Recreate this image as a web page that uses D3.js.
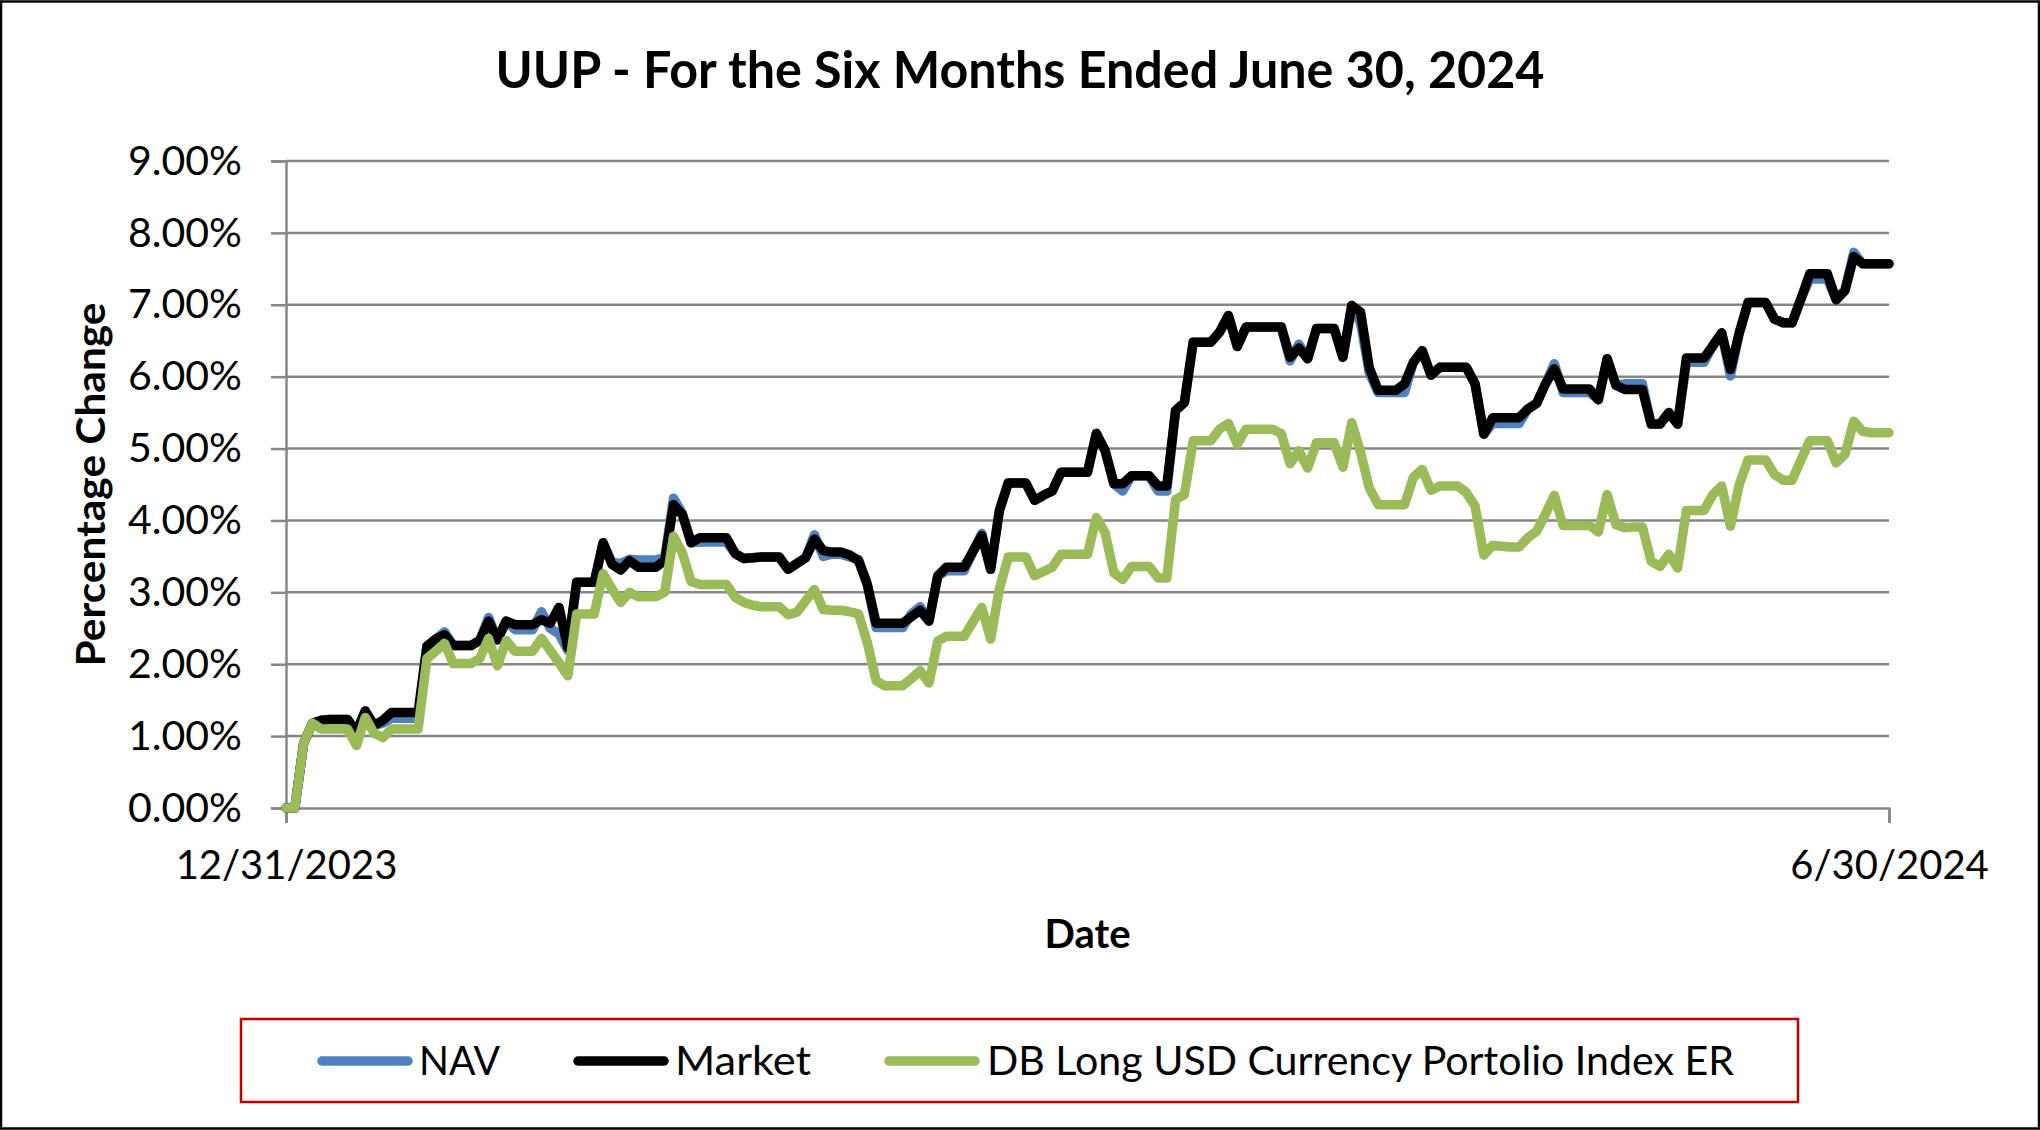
<!DOCTYPE html>
<html>
<head>
<meta charset="utf-8">
<script src="https://cdn.jsdelivr.net/npm/d3@7"></script>
<style>
  html, body { margin: 0; padding: 0; background: #fff; }
  svg { display: block; }
  text { font-family: Lato, "Open Sans", sans-serif; fill: #000; }
</style>
</head>
<body>
<svg id="chart" width="2040" height="1130"></svg>
<script>
// ---------------- DATA ----------------
const title = "UUP - For the Six Months Ended June 30, 2024";
const xTitle = "Date";
const yTitle = "Percentage Change";
const startDate = "2023-12-31";
const endDate = "2024-06-30";
const xTickLabels = ["12/31/2023", "6/30/2024"];
const yTicks = [0, 1, 2, 3, 4, 5, 6, 7, 8, 9];
const seriesNames = ["NAV", "Market", "DB Long USD Currency Portolio Index ER"];

// daily values (percent), 12/31/2023 .. 6/30/2024
const market = [
  0, 0, 0.90, 1.18, 1.22, 1.23, 1.23, 1.23, 1.06, 1.35,
  1.15, 1.22, 1.33, 1.33, 1.33, 1.33, 2.25, 2.35, 2.41, 2.26,
  2.26, 2.26, 2.33, 2.60, 2.34, 2.60, 2.55, 2.55, 2.55, 2.62,
  2.57, 2.79, 2.23, 3.14, 3.14, 3.14, 3.69, 3.39, 3.31, 3.44,
  3.35, 3.35, 3.35, 3.44, 4.22, 4.08, 3.69, 3.76, 3.76, 3.76,
  3.76, 3.54, 3.47, 3.48, 3.49, 3.49, 3.49, 3.32, 3.40, 3.48,
  3.74, 3.58, 3.56, 3.56, 3.52, 3.44, 3.11, 2.57, 2.57, 2.57,
  2.57, 2.66, 2.75, 2.60, 3.23, 3.35, 3.35, 3.35, 3.57, 3.79,
  3.32, 4.14, 4.52, 4.52, 4.52, 4.28, 4.35, 4.41, 4.67, 4.67,
  4.67, 4.67, 5.21, 4.97, 4.51, 4.51, 4.62, 4.62, 4.62, 4.48,
  4.48, 5.53, 5.64, 6.48, 6.48, 6.48, 6.62, 6.85, 6.42, 6.69,
  6.69, 6.69, 6.69, 6.69, 6.27, 6.40, 6.25, 6.67, 6.67, 6.67,
  6.27, 6.99, 6.90, 6.12, 5.81, 5.81, 5.81, 5.90, 6.20, 6.36,
  6.02, 6.13, 6.13, 6.13, 6.13, 5.90, 5.20, 5.43, 5.43, 5.43,
  5.43, 5.55, 5.63, 5.90, 6.11, 5.83, 5.83, 5.83, 5.83, 5.68,
  6.25, 5.88, 5.82, 5.82, 5.82, 5.34, 5.34, 5.50, 5.34, 6.26,
  6.26, 6.26, 6.43, 6.61, 6.10, 6.61, 7.03, 7.03, 7.03, 6.80,
  6.75, 6.75, 7.08, 7.43, 7.43, 7.43, 7.07, 7.20, 7.67, 7.57,
  7.57, 7.57, 7.57
];
const nav = [
  0, 0, 0.90, 1.18, 1.22, 1.23, 1.23, 1.23, 1.06, 1.35,
  1.15, 1.18, 1.25, 1.25, 1.25, 1.25, 2.25, 2.35, 2.45, 2.26,
  2.26, 2.26, 2.33, 2.65, 2.34, 2.60, 2.48, 2.48, 2.48, 2.73,
  2.50, 2.42, 2.19, 3.14, 3.14, 3.14, 3.69, 3.42, 3.40, 3.46,
  3.45, 3.45, 3.45, 3.48, 4.31, 4.10, 3.69, 3.70, 3.70, 3.70,
  3.70, 3.54, 3.47, 3.48, 3.49, 3.49, 3.49, 3.32, 3.40, 3.48,
  3.80, 3.50, 3.53, 3.53, 3.49, 3.46, 3.11, 2.51, 2.51, 2.51,
  2.51, 2.70, 2.80, 2.60, 3.23, 3.30, 3.30, 3.30, 3.57, 3.82,
  3.32, 4.14, 4.52, 4.52, 4.52, 4.28, 4.35, 4.41, 4.67, 4.67,
  4.67, 4.67, 5.21, 4.97, 4.51, 4.41, 4.62, 4.62, 4.62, 4.41,
  4.41, 5.53, 5.64, 6.48, 6.48, 6.48, 6.62, 6.85, 6.42, 6.69,
  6.69, 6.69, 6.69, 6.69, 6.22, 6.45, 6.25, 6.67, 6.67, 6.67,
  6.27, 6.99, 6.75, 6.05, 5.78, 5.78, 5.78, 5.78, 6.20, 6.36,
  6.02, 6.13, 6.13, 6.13, 6.13, 5.90, 5.20, 5.35, 5.35, 5.35,
  5.35, 5.55, 5.63, 5.90, 6.18, 5.78, 5.78, 5.78, 5.78, 5.68,
  6.25, 5.88, 5.90, 5.90, 5.90, 5.34, 5.34, 5.50, 5.34, 6.20,
  6.20, 6.20, 6.43, 6.61, 6.01, 6.61, 7.03, 7.03, 7.03, 6.80,
  6.75, 6.75, 7.08, 7.36, 7.36, 7.36, 7.07, 7.20, 7.73, 7.57,
  7.57, 7.57, 7.57
];
const indexER = [
  0, 0, 0.90, 1.18, 1.10, 1.10, 1.10, 1.10, 0.87, 1.26,
  1.04, 0.98, 1.10, 1.10, 1.10, 1.10, 2.08, 2.18, 2.29, 2.01,
  2.01, 2.01, 2.08, 2.36, 1.98, 2.33, 2.18, 2.18, 2.18, 2.36,
  2.19, 2.02, 1.84, 2.70, 2.70, 2.70, 3.26, 3.05, 2.86, 3.00,
  2.94, 2.94, 2.94, 3.00, 3.78, 3.55, 3.15, 3.11, 3.11, 3.11,
  3.11, 2.93, 2.86, 2.82, 2.80, 2.80, 2.80, 2.69, 2.72, 2.88,
  3.04, 2.76, 2.75, 2.75, 2.73, 2.70, 2.30, 1.77, 1.70, 1.70,
  1.70, 1.80, 1.91, 1.74, 2.32, 2.39, 2.39, 2.39, 2.59, 2.79,
  2.35, 3.05, 3.49, 3.49, 3.49, 3.23, 3.29, 3.35, 3.53, 3.53,
  3.53, 3.53, 4.04, 3.83, 3.27, 3.18, 3.36, 3.36, 3.36, 3.20,
  3.20, 4.29, 4.36, 5.11, 5.11, 5.11, 5.27, 5.35, 5.06, 5.27,
  5.27, 5.27, 5.27, 5.21, 4.79, 4.97, 4.73, 5.08, 5.08, 5.08,
  4.74, 5.36, 4.95, 4.45, 4.22, 4.22, 4.22, 4.22, 4.60, 4.71,
  4.42, 4.48, 4.48, 4.48, 4.39, 4.20, 3.52, 3.65, 3.64, 3.63,
  3.63, 3.76, 3.85, 4.09, 4.35, 3.93, 3.93, 3.93, 3.93, 3.84,
  4.36, 3.94, 3.90, 3.91, 3.91, 3.43, 3.36, 3.53, 3.34, 4.14,
  4.14, 4.14, 4.36, 4.48, 3.92, 4.50, 4.84, 4.84, 4.84, 4.64,
  4.56, 4.56, 4.84, 5.11, 5.11, 5.11, 4.80, 4.92, 5.38, 5.24,
  5.22, 5.22, 5.22
];
const colors = ["#4F81BD", "#000000", "#9BBB59"];

// ---------------- CHART ----------------
const parse = d3.timeParse("%Y-%m-%d");
const d0 = parse(startDate), d1 = parse(endDate);
const dates = d3.timeDay.range(d0, d3.timeDay.offset(d1, 1));

const svg = d3.select("#chart");
const W = 2040, H = 1130;
const plot = { left: 286, right: 1889, top: 161, bottom: 808 };

svg.append("rect").attr("x", 0).attr("y", 0).attr("width", W).attr("height", H).attr("fill", "#fff");
svg.append("rect").attr("x", 1).attr("y", 1.5).attr("width", W - 2).attr("height", H - 3)
  .attr("fill", "none").attr("stroke", "#000").attr("stroke-width", 2.5);

const x = d3.scaleTime().domain([d0, d1]).range([plot.left, plot.right]);
const y = d3.scaleLinear().domain([0, 9]).range([plot.bottom, plot.top]);

// gridlines
svg.append("g").selectAll("line").data(yTicks.filter(t => t > 0)).join("line")
  .attr("x1", plot.left).attr("x2", plot.right)
  .attr("y1", d => y(d)).attr("y2", d => y(d))
  .attr("stroke", "#868686").attr("stroke-width", 2.5);

// y axis
const yAxis = d3.axisLeft(y).tickValues(yTicks).tickSize(15).tickPadding(29)
  .tickFormat(d => d3.format(".2f")(d) + "%");
const gy = svg.append("g").attr("transform", `translate(${plot.left},0)`).call(yAxis);
gy.select(".domain").attr("stroke", "#868686").attr("stroke-width", 2.5);
gy.selectAll(".tick line").attr("stroke", "#868686").attr("stroke-width", 2.5);
gy.selectAll(".tick text").attr("font-size", 41).attr("font-family", "Lato").attr("fill", "#000")
  .attr("textLength", 114).attr("lengthAdjust", "spacingAndGlyphs");

// x axis
const xAxis = d3.axisBottom(x).tickValues([d0, d1]).tickSize(15).tickPadding(28)
  .tickFormat((d, i) => xTickLabels[i]);
const gx = svg.append("g").attr("transform", `translate(0,${plot.bottom})`).call(xAxis);
gx.select(".domain").attr("stroke", "#868686").attr("stroke-width", 2.5);
gx.selectAll(".tick line").attr("stroke", "#868686").attr("stroke-width", 2.5);
gx.selectAll(".tick text").attr("font-size", 40).attr("font-family", "Lato").attr("fill", "#000");

// lines
const series = [nav, market, indexER];
const line = d3.line().x((d, i) => x(dates[i])).y(d => y(d));
svg.append("g").selectAll("path").data(series).join("path")
  .attr("d", d => line(d))
  .attr("fill", "none")
  .attr("stroke", (d, i) => colors[i])
  .attr("stroke-width", 9.5)
  .attr("stroke-linejoin", "round")
  .attr("stroke-linecap", "round");

// title
svg.append("text").attr("x", 1020).attr("y", 88).attr("text-anchor", "middle")
  .attr("font-size", 52).attr("font-weight", "bold")
  .attr("textLength", 1049).attr("lengthAdjust", "spacingAndGlyphs")
  .text(title);

// axis titles
svg.append("text").attr("x", (plot.left + plot.right) / 2).attr("y", 948).attr("text-anchor", "middle")
  .attr("font-size", 40).attr("font-weight", "bold").text(xTitle);
svg.append("text").attr("transform", `translate(105,${(plot.top + plot.bottom) / 2}) rotate(-90)`)
  .attr("text-anchor", "middle").attr("font-size", 40).attr("font-weight", "bold")
  .attr("textLength", 364).attr("lengthAdjust", "spacingAndGlyphs")
  .text(yTitle);

// legend
const lg = svg.append("g");
lg.append("rect").attr("x", 241).attr("y", 1019).attr("width", 1557).attr("height", 83)
  .attr("fill", "#fff").attr("stroke", "#C00000").attr("stroke-width", 2.5);
const legendItems = [
  { x0: 322, x1: 408, tx: 419, w: 81 },
  { x0: 578, x1: 664, tx: 675, w: 136 },
  { x0: 889, x1: 975, tx: 987, w: 747 }
];
legendItems.forEach((it, i) => {
  lg.append("line").attr("x1", it.x0).attr("x2", it.x1).attr("y1", 1061).attr("y2", 1061)
    .attr("stroke", colors[i]).attr("stroke-width", 9.5).attr("stroke-linecap", "round");
  lg.append("text").attr("x", it.tx).attr("y", 1075).attr("font-size", 40)
    .attr("textLength", it.w).attr("lengthAdjust", "spacingAndGlyphs")
    .text(seriesNames[i]);
});
</script>
</body>
</html>
